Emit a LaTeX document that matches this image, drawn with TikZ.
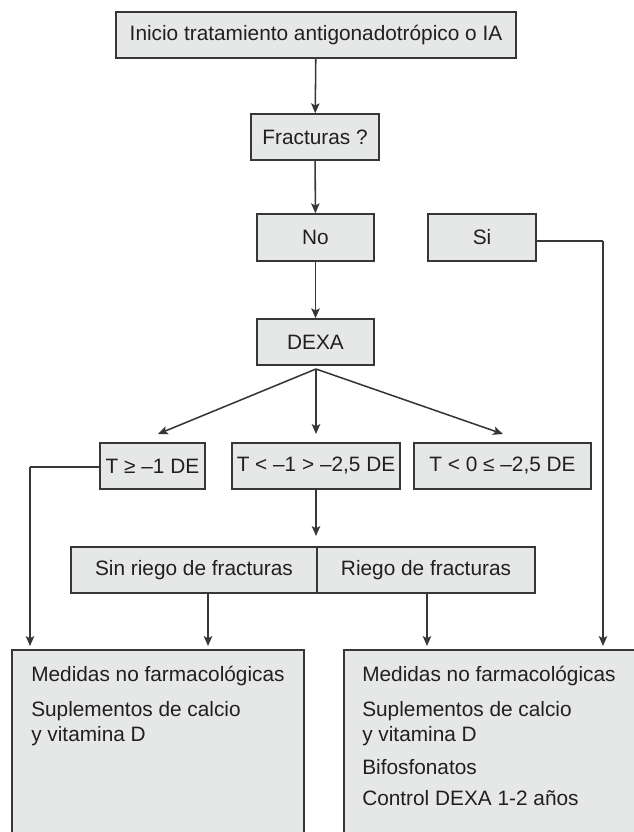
\documentclass[tikz,border=0pt]{standalone}
\usepackage{fontspec}
\setmainfont{Liberation Sans}
\usepackage{tikz}
\usetikzlibrary{arrows.meta, positioning}
\definecolor{boxfill}{RGB}{230,231,231}
\definecolor{boxline}{RGB}{55,55,55}
\definecolor{inktext}{RGB}{35,31,32}
\tikzstyle{block} = [draw=boxline, fill=boxfill, line width=1.1pt, text=inktext, inner sep=0pt, minimum height=1.15cm, font=\fontsize{14.8}{17.8}\selectfont]
\tikzstyle{outbox} = [draw=boxline, fill=boxfill, line width=1.1pt, anchor=north west, minimum width=7.3cm, minimum height=4.75cm]
\tikzstyle{item} = [anchor=base west, inner sep=0pt, text=inktext, font=\fontsize{14.8}{17.8}\selectfont]
\tikzstyle{link} = [draw=boxline, line width=1.1pt, -{Stealth[length=7pt, width=6pt, inset=1.5pt]}]
\tikzstyle{wire} = [draw=boxline, line width=1.1pt]

\begin{document}
\begin{tikzpicture}[x=0.025cm, y=-0.025cm]
					\useasboundingbox (0, 0) rectangle (633, 832);

					\node (Start) [block, minimum width=10cm] at (316, 35) {Inicio tratamiento antigonadotrópico o IA};
					\node (Frac) [block, minimum width=3.2cm] at (315, 137) {Fracturas ?};
					\node (No) [block, minimum width=2.925cm, minimum height=1.175cm] at (315.5, 237.5) {No};
					\node (Si) [block, minimum width=2.7cm, minimum height=1.175cm] at (482, 237.5) {Si};
					\node (Dexa) [block, minimum width=2.925cm] at (315.5, 342) {DEXA};

					\node (TLow) [block, minimum width=2.625cm] at (152.5, 466) {T ≥ –1 DE};
					\node (TMid) [block, minimum width=4.2cm] at (316, 466) {T < –1 > –2,5 DE};
					\node (THigh) [block, minimum width=4.425cm] at (502.5, 466) {T < 0 ≤ –2,5 DE};

					\node (NoRisk) [block, minimum width=6.16cm] at (194, 570) {Sin riego de fracturas};
					\node (Risk) [block, minimum width=5.45cm] at (426, 570) {Riego de fracturas};

					\node (CareA) [outbox] at (11, 649) {};
					\node (CareB) [outbox, minimum width=7.4cm] at (343, 649) {};

					\node (CareA1) [item] at (31, 681) {Medidas no farmacológicas};
					\node (CareA2) [item] at (31, 716) {Suplementos de calcio};
					\node (CareA3) [item] at (31, 741) {y vitamina D};

					\node (CareB1) [item] at (362, 681) {Medidas no farmacológicas};
					\node (CareB2) [item] at (362, 716) {Suplementos de calcio};
					\node (CareB3) [item] at (362, 741) {y vitamina D};
					\node (CareB4) [item] at (362, 774) {Bifosfonatos};
					\node (CareB5) [item] at (362, 805) {Control DEXA 1-2 años};

					\draw [link] (Start) -- (Frac);
					\draw [link] (Frac) -- (No);
					\draw [link] (No) -- (Dexa);

					\coordinate (Split) at (316, 369);
					\coordinate (ToLow) at (158, 434);
					\coordinate (ToMid) at (316, 434);
					\coordinate (ToHigh) at (503, 434);
					\draw [link] (Split) -- (ToLow);
					\draw [link] (Split) -- (ToMid);
					\draw [link] (Split) -- (ToHigh);

					\coordinate (ToRisk) at (316, 536);
					\draw [link] (TMid) -- (ToRisk);

					\coordinate (LowCorner) at (30, 467);
					\coordinate (ToCareA) at (30, 646);
					\draw [wire] (TLow.west |- LowCorner) -- (LowCorner);
					\draw [link] (LowCorner) -- (ToCareA);

					\coordinate (NoRiskOut) at (208, 593);
					\coordinate (ToCareA2) at (208, 646);
					\draw [link] (NoRiskOut) -- (ToCareA2);

					\coordinate (RiskOut) at (427, 593);
					\coordinate (ToCareB) at (427, 646);
					\draw [link] (RiskOut) -- (ToCareB);

					\coordinate (SiCorner) at (603, 241);
					\coordinate (ToCareB2) at (603, 646);
					\draw [wire] (Si.east |- SiCorner) -- (SiCorner);
					\draw [link] (SiCorner) -- (ToCareB2);

				\end{tikzpicture}
\end{document}
